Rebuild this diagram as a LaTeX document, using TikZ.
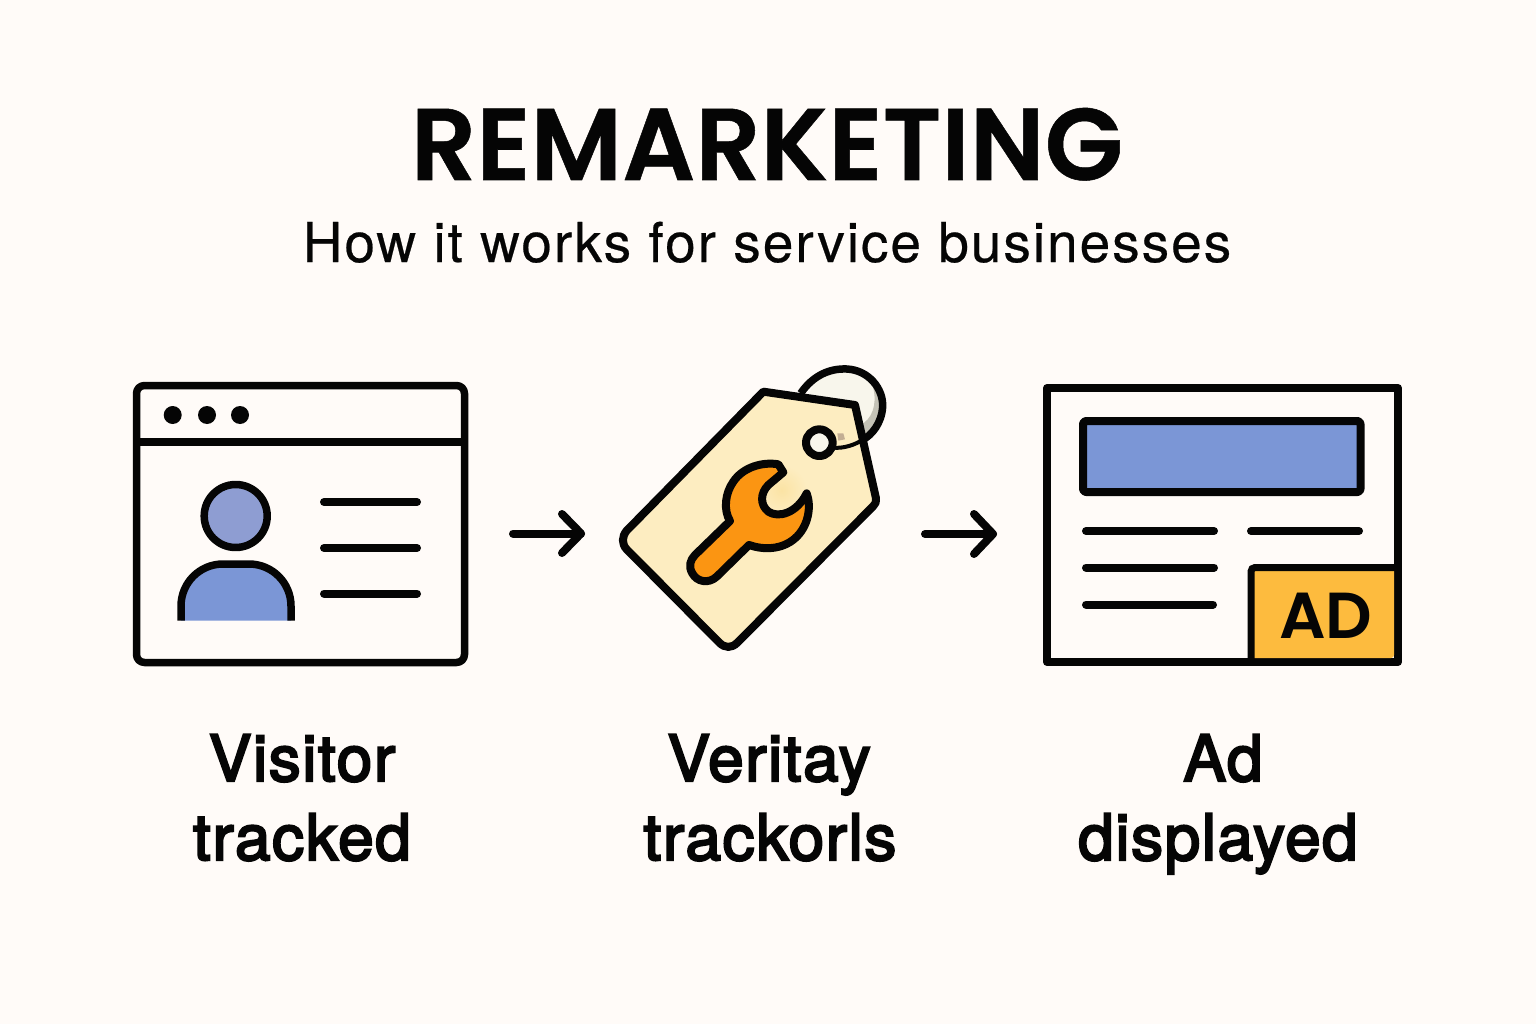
\documentclass[tikz,border=0pt]{standalone}
\usepackage{fontspec}
\setmainfont{TeX Gyre Heros}[LetterSpace=3.6,FakeBold=0.4]
\newfontfamily\titlefont{Poppins}[UprightFont=* SemiBold,FakeBold=0.5]
\newfontfamily\adfont{Poppins}[UprightFont=* SemiBold]
\newfontfamily\labelfont{TeX Gyre Heros}[FakeBold=3.4,LetterSpace=2.4]
\definecolor{bg}{HTML}{FFFBF8}
\definecolor{ink}{HTML}{050505}
\definecolor{blue}{HTML}{7B96D6}
\definecolor{headblue}{HTML}{8E9DD2}
\definecolor{tagfill}{HTML}{FDEDC1}
\definecolor{tagdeep}{HTML}{FBE3A4}
\definecolor{orange}{HTML}{FB9512}
\definecolor{adyellow}{HTML}{FDBB3E}
\definecolor{ringfill}{HTML}{F8F6EC}
\definecolor{ringshade}{HTML}{C4C2B6}
\tikzset{
  ol/.style={draw=ink,line width=7.5pt,line join=round},
  txtline/.style={draw=ink,line width=8pt,line cap=round},
  flow/.style={draw=ink,line width=8pt,line cap=round,line join=round},
  lbl/.style={font=\labelfont\fontsize{64}{79}\selectfont,align=center,text=ink,inner sep=0pt},
}
\begin{document}
\begin{tikzpicture}[x=1pt,y=-1pt]
\useasboundingbox (0,0) rectangle (1536,1024);
\fill[bg] (0,0) rectangle (1536,1024);

% titles
\node[font=\titlefont\fontsize{102}{102}\selectfont,text=ink,inner sep=0pt,anchor=base] (title) at (767,180) {REMARKETING};
\node[font=\fontsize{55}{60}\selectfont,text=ink,inner sep=0pt,anchor=base] (subtitle) at (767,262) {How it works for service businesses};

% browser
\draw[ol,rounded corners=8pt] (136.5,385.5) rectangle (464.5,662.5);
\draw[ol] (136.5,442) -- (464.5,442);
\foreach \dx in {172.7,207,240}{\fill[ink] (\dx,415) circle (9);}
\draw[ol,fill=headblue] (235.7,516) circle (31.5);
\draw[ol,fill=blue] (181,620.7) -- (181,606) arc[start angle=180,end angle=90,x radius=42,y radius=-42]
  -- (249,564) arc[start angle=90,end angle=0,x radius=42,y radius=-42] -- (291,620.7);
\draw[txtline] (324,502) -- (417,502);
\draw[txtline] (324,548) -- (417,548);
\draw[txtline] (324,593.5) -- (417,593.5);

% arrow 1
\coordinate (a1s) at (513,533.5);
\coordinate (a1e) at (581,533.5);
\draw[flow] (a1s) -- (a1e);
\draw[flow] (562,514) -- (a1e) -- (562,553);

% tag
\begin{scope}[shift={(600,350)},x=0.33333pt,y=-0.33333pt]
  % ring
  \fill[ringfill] (735,165) circle (112);
  \fill[ringshade] (838,120) .. controls (855,170) and (835,225) .. (795,250) -- (780,225) .. controls (815,210) and (832,165) .. (820,115) -- cycle;
  \draw[ink,line width=7.5pt] (602,130) .. controls (640,75) and (690,55) .. (740,57)
     .. controls (805,60) and (850,115) .. (848,170)
     .. controls (845,220) and (815,255) .. (790,268);
  % tag body
  \draw[ol,fill=tagfill,line width=8pt] (490,125) -- (765,165) -- (828,445)
     .. controls (830,455) and (826,462) .. (820,468)
     -- (412,878) .. controls (395,895) and (375,895) .. (358,878)
     -- (80,598) .. controls (65,582) and (65,560) .. (80,542) -- cycle;
  \shade[inner color=tagdeep,outer color=tagfill] (545,420) circle (75);
  % string over the tag
  \fill[ringshade!70!brown] (712,250) -- (730,250) -- (735,268) -- (715,272) -- cycle;
  \draw[ink,line width=4pt] (700,293) .. controls (730,296) and (765,285) .. (790,268);
  % hole
  \draw[ol,fill=ringfill,line width=8pt] (658,278) circle (40);
  % wrench
  \draw[ol,fill=orange,line width=8pt]
     (390,513) .. controls (370,480) and (375,430) .. (400,395)
     .. controls (430,350) and (490,335) .. (535,343)
     -- (550,367) -- (505,405)
     .. controls (480,430) and (480,465) .. (505,485)
     .. controls (535,505) and (590,490) .. (620,430)
     .. controls (635,470) and (625,530) .. (585,565)
     .. controls (545,600) and (490,600) .. (447,585)
     -- (350,680) .. controls (325,703) and (290,695) .. (277,670)
     .. controls (265,650) and (270,630) .. (285,615) -- cycle;
\end{scope}

% arrow 2
\coordinate (a2s) at (925,534);
\coordinate (a2e) at (993,534);
\draw[flow] (a2s) -- (a2e);
\draw[flow] (974,514) -- (a2e) -- (974,554);

% ad page
\draw[ink,line width=8pt,line join=round,fill=bg] (1047,388) rectangle (1398,662);
\draw[ink,line width=8pt,line join=round,rounded corners=3pt,fill=blue] (1083,421) rectangle (1360.5,492);
\draw[txtline] (1086,531) -- (1214,531);
\draw[txtline] (1086,567.5) -- (1214,567.5);
\draw[txtline] (1086,604.5) -- (1213,604.5);
\draw[txtline] (1251,531) -- (1359,531);
\fill[adyellow,rounded corners=3pt] (1251,567.5) rectangle (1394,658);
\draw[ink,line width=7pt,rounded corners=4pt] (1251,662) -- (1251,567.5) -- (1398,567.5);
\node[font=\adfont\fontsize{65}{65}\selectfont,text=ink,inner sep=0pt,anchor=base] (ad) at (1326,638) {AD};

% labels
\node[lbl,anchor=base] (l1) at (302,781) {Visitor};
\node[lbl,anchor=base] (l1b) at (302,860) {tracked};
\node[lbl,anchor=base] (l2) at (769,781) {Veritay};
\node[lbl,anchor=base] (l2b) at (770,860) {trackorls};
\node[lbl,anchor=base] (l3) at (1223,781) {Ad};
\node[lbl,anchor=base] (l3b) at (1218,860) {displayed};
\end{tikzpicture}
\end{document}
